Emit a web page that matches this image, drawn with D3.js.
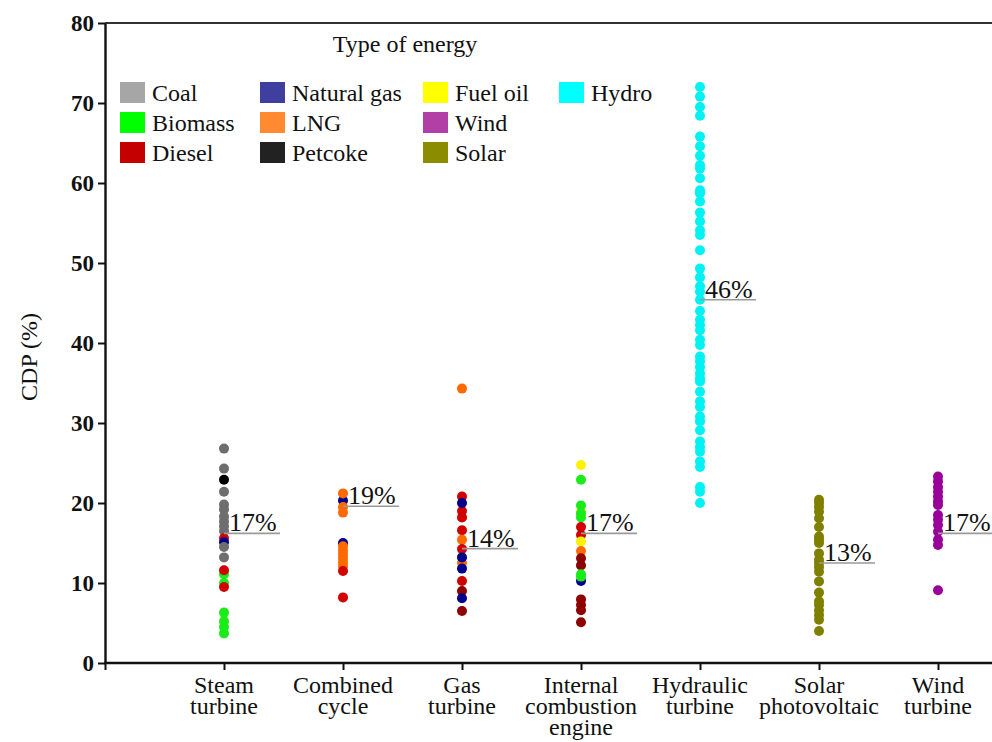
<!DOCTYPE html>
<html><head><meta charset="utf-8">
<script src="https://cdn.jsdelivr.net/npm/d3@7"></script>
<style>
html,body{margin:0;padding:0;background:#fff;}
svg{display:block;}
</style></head>
<body>
<svg id="chart" width="992" height="742"></svg>
<script>
// ---------- data ----------
const categories = ["Steam turbine","Combined cycle","Gas turbine","Internal combustion engine","Hydraulic turbine","Solar photovoltaic","Wind turbine"];
const categoryLabelLines = [["Steam","turbine"],["Combined","cycle"],["Gas","turbine"],["Internal","combustion","engine"],["Hydraulic","turbine"],["Solar","photovoltaic"],["Wind","turbine"]];
const yTicks = [0,10,20,30,40,50,60,70,80];
const percentLabels = ["17%","19%","14%","17%","46%","13%","17%"];
const percentLineValues = [16.2,19.6,14.3,16.2,45.4,12.5,16.2];

const legendTypes = [["Coal","Biomass","Diesel"],["Natural gas","LNG","Petcoke"],["Fuel oil","Wind","Solar"],["Hydro"]];

const steamTurbine = [["Coal",26.8],["Coal",24.3],["Petcoke",22.9],["Coal",21.4],["Coal",19.8],["Coal",19.2],["Coal",18.3],["Coal",17.7],["Coal",17.1],["Coal",16.5],["Diesel",15.6],["Natural gas",15.1],["Coal",14.5],["Coal",13.2],["Biomass",11.1],["Diesel",11.6],["Biomass",10.0],["Diesel",9.5],["Biomass",6.3],["Biomass",5.2],["Biomass",4.5],["Biomass",3.7]];
const combinedCycle = [["Natural gas",20.3],["Natural gas",15.0],["LNG",21.2],["LNG",19.5],["LNG",18.8],["LNG",14.6],["LNG",14.1],["LNG",13.6],["LNG",13.1],["LNG",12.6],["LNG",12.1],["Diesel",11.5],["Diesel",8.2]];
const gasTurbine = [["LNG",34.3],["Diesel",20.8],["Diesel",19.0],["Diesel",18.2],["Diesel",16.6],["LNG",15.4],["Diesel",14.25],["LNG",12.5],["Natural gas",20.0],["Natural gas",13.2],["Natural gas",11.8],["Diesel",10.25],["Diesel (dark)",9.0],["Natural gas",8.1],["Diesel (dark)",6.5]];
const internalCombustion = [["Fuel oil",24.75],["Biomass",22.9],["Fuel oil",18.9],["Biomass",19.7],["Biomass",18.7],["Biomass",18.2],["Diesel",17.0],["Diesel",16.0],["Fuel oil",15.2],["LNG",14.0],["Diesel (dark)",13.1],["Diesel (dark)",12.2],["Natural gas",10.25],["Biomass",11.1],["Biomass",10.8],["Diesel (dark)",7.95],["Diesel (dark)",7.25],["Diesel (dark)",6.6],["Diesel (dark)",5.1]];
const hydraulicTurbine = [72.0,70.8,69.5,68.4,65.8,64.6,63.4,62.25,61.8,60.6,59.1,58.7,57.7,56.3,55.2,54.1,53.5,51.6,49.3,48.2,47.1,46.4,45.4,44.0,42.9,42.25,41.6,40.4,39.75,38.3,37.7,37.0,36.2,35.6,35.2,33.9,32.7,32.0,30.8,30.2,29.1,27.7,27.0,26.4,25.2,24.5,22.0,21.4,20.0].map(v => ["Hydro", v]);
const solarPhotovoltaic = [20.4,20.0,19.5,18.9,18.1,17.0,15.8,15.4,15.0,13.7,12.9,12.5,12.0,11.4,10.2,8.8,7.7,7.25,6.6,6.0,5.4,4.0].map(v => ["Solar", v]);
const windTurbine = [23.3,22.7,22.0,21.4,20.8,20.2,19.75,18.5,17.9,17.25,16.4,15.4,14.75,9.1].map(v => ["Wind", v]);
const pointsByCategory = [steamTurbine, combinedCycle, gasTurbine, internalCombustion, hydraulicTurbine, solarPhotovoltaic, windTurbine];

// ---------- styles ----------
const FONT = "Liberation Serif";
const dotColor = {"Coal":"#6e6e6e","Petcoke":"#000000","Diesel":"#d00000","Diesel (dark)":"#8e0000","Natural gas":"#00008b","Biomass":"#19ec19","LNG":"#ff6a00","Fuel oil":"#fff200","Hydro":"#00f2f2","Wind":"#990099","Solar":"#808000"};
const swatchColor = {"Coal":"#a6a6a6","Biomass":"#00ff00","Diesel":"#c40000","Natural gas":"#3f3fa0","LNG":"#ff8a30","Petcoke":"#222222","Fuel oil":"#ffff00","Wind":"#b23fa5","Solar":"#8c8c00","Hydro":"#00ffff"};

const svg = d3.select("#chart").attr("font-family", FONT);
const x = d3.scaleLinear().domain([0, 7]).range([105, 938]);
const y = d3.scaleLinear().domain([0, 80]).range([663, 23]);

// top frame line
svg.append("line").attr("x1", x(0)).attr("x2", 992).attr("y1", y(80)).attr("y2", y(80))
  .attr("stroke", "#333").attr("stroke-width", 2);

// y axis
const yAxis = svg.append("g").attr("transform", `translate(${x(0)},0)`)
  .call(d3.axisLeft(y).tickValues(yTicks).tickSize(7).tickSizeOuter(0).tickPadding(4));
yAxis.attr("font-family", FONT);
yAxis.select(".domain").attr("stroke", "#111").attr("stroke-width", 2.4);
yAxis.selectAll(".tick line").attr("stroke", "#111").attr("stroke-width", 2);
yAxis.selectAll(".tick text").attr("font-size", 23).attr("font-weight", "bold")
  .attr("font-family", FONT).attr("fill", "#111");

// x axis
const xAxis = svg.append("g").attr("transform", `translate(0,${y(0)})`)
  .call(d3.axisBottom(x).tickValues(d3.range(0, 8)).tickSize(7).tickSizeOuter(0).tickFormat(""));
xAxis.select(".domain").remove();
xAxis.selectAll(".tick line").attr("stroke", "#111").attr("stroke-width", 2);
svg.append("line").attr("x1", x(0) - 1).attr("x2", 992).attr("y1", y(0)).attr("y2", y(0))
  .attr("stroke", "#111").attr("stroke-width", 2.4);

// category labels
categoryLabelLines.forEach((lines, i) => {
  lines.forEach((ln, j) => {
    svg.append("text").attr("text-anchor", "middle").attr("font-size", 24).attr("fill", "#111")
      .attr("font-family", FONT)
      .attr("x", x(i + 1)).attr("y", 693 + j * 21).text(ln);
  });
});

// y-axis title
svg.append("text").attr("transform", "translate(37,357) rotate(-90)").attr("text-anchor", "middle")
  .attr("font-family", FONT).attr("font-size", 24).attr("fill", "#111").text("CDP (%)");

// dots
pointsByCategory.forEach((pts, i) => {
  svg.append("g").selectAll("circle").data(pts).join("circle")
    .attr("cx", x(i + 1)).attr("cy", d => y(d[1])).attr("r", 5)
    .attr("fill", d => dotColor[d[0]]);
});

// percentage labels with underline
percentLabels.forEach((lab, i) => {
  const cx = x(i + 1), ly = y(percentLineValues[i]);
  svg.append("line").attr("x1", cx).attr("x2", cx + 56).attr("y1", ly).attr("y2", ly)
    .attr("stroke", "#9a9a9a").attr("stroke-width", 1.6);
  svg.append("text").attr("x", cx + 5).attr("y", ly - 2).attr("font-family", FONT)
    .attr("font-size", 26).attr("fill", "#111").text(lab);
});

// legend
svg.append("text").attr("x", 405).attr("y", 52).attr("text-anchor", "middle").attr("font-size", 24)
  .attr("font-family", FONT).attr("fill", "#111").text("Type of energy");
const legendColX = [120, 260, 423, 559];
legendTypes.forEach((col, ci) => {
  col.forEach((name, ri) => {
    const top = 82 + ri * 30;
    svg.append("rect").attr("x", legendColX[ci]).attr("y", top).attr("width", 25).attr("height", 21)
      .attr("fill", swatchColor[name]);
    svg.append("text").attr("x", legendColX[ci] + 32).attr("y", top + 19).attr("font-size", 24)
      .attr("font-family", FONT).attr("fill", "#111").text(name);
  });
});
</script>
</body></html>
